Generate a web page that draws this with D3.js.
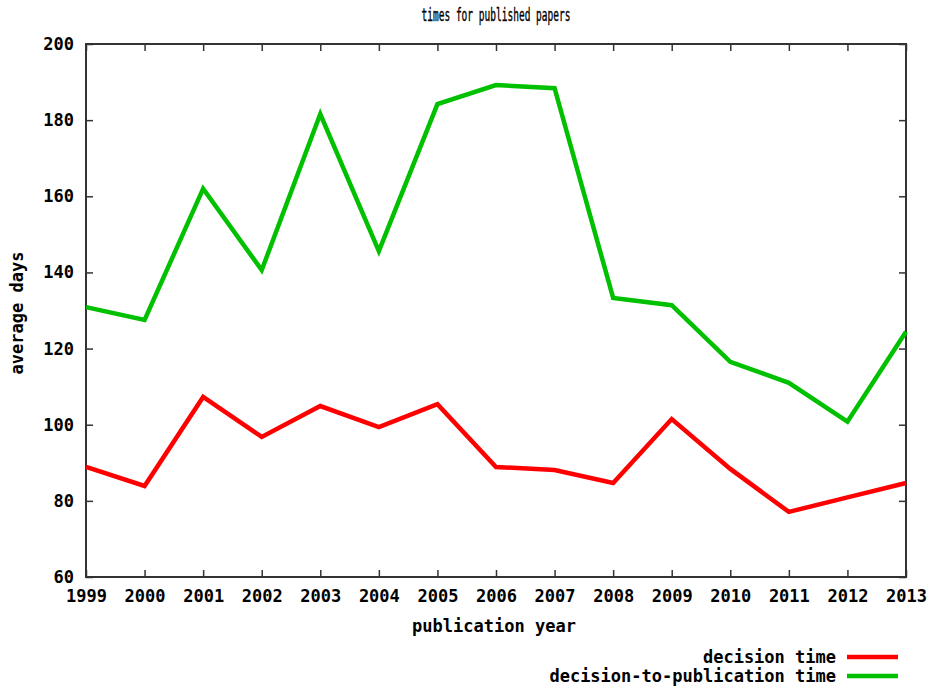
<!DOCTYPE html>
<html>
<head>
<meta charset="utf-8">
<script src="https://cdn.jsdelivr.net/npm/d3@7"></script>
<style>
  html, body { margin: 0; padding: 0; background: #fff; }
  svg { display: block; }
  text { font-family: "DejaVu Sans Mono", monospace; fill: #000; }
</style>
</head>
<body>
<svg id="chart" width="930" height="691"></svg>
<script>
const years = [1999, 2000, 2001, 2002, 2003, 2004, 2005, 2006, 2007, 2008, 2009, 2010, 2011, 2012, 2013];
const decisionTime = [88.9, 83.9, 107.3, 96.8, 104.9, 99.4, 105.4, 88.9, 88.1, 84.7, 101.5, 88.4, 77.1, 80.9, 84.7];
const decisionToPublication = [130.9, 127.5, 162.0, 140.6, 181.6, 145.6, 184.2, 189.2, 188.4, 133.3, 131.4, 116.5, 111.0, 100.8, 124.4];
const yTicks = [60, 80, 100, 120, 140, 160, 180, 200];
const seriesNames = ["decision time", "decision-to-publication time"];
const seriesColors = ["#ff0000", "#00c000"];
const titleText = "times for published papers";
const xLabel = "publication year";
const yLabel = "average days";

const svg = d3.select("#chart");
const mLeft = 86, mRight = 906, mTop = 44, mBottom = 577;

const x = d3.scaleLinear().domain([1999, 2013]).range([mLeft, mRight]);
const y = d3.scaleLinear().domain([60, 200]).range([mBottom, mTop]);

const axisColor = "#333";
const tickLen = 7;

// frame
svg.append("rect")
  .attr("x", mLeft).attr("y", mTop)
  .attr("width", mRight - mLeft).attr("height", mBottom - mTop)
  .attr("fill", "none").attr("stroke", axisColor).attr("stroke-width", 2);

// bottom axis (inward ticks)
const xAxisB = d3.axisBottom(x).tickValues(years).tickFormat(d3.format("d")).tickSizeInner(-tickLen).tickSizeOuter(0).tickPadding(13);
const gxB = svg.append("g").attr("transform", `translate(0,${mBottom})`).call(xAxisB);
gxB.select(".domain").remove();
gxB.selectAll(".tick line").attr("stroke", axisColor).attr("stroke-width", 1.5);
gxB.selectAll(".tick text")
  .attr("font-family", "DejaVu Sans Mono").attr("font-weight", "bold").attr("font-size", 17).attr("fill", "#000");

// top axis ticks (inward, no labels)
const xAxisT = d3.axisTop(x).tickValues(years).tickFormat("").tickSizeInner(-tickLen).tickSizeOuter(0);
const gxT = svg.append("g").attr("transform", `translate(0,${mTop})`).call(xAxisT);
gxT.select(".domain").remove();
gxT.selectAll(".tick line").attr("stroke", axisColor).attr("stroke-width", 1.5);

// left axis
const yAxisL = d3.axisLeft(y).tickValues(yTicks).tickFormat(d3.format("d")).tickSizeInner(-tickLen).tickSizeOuter(0).tickPadding(12);
const gyL = svg.append("g").attr("transform", `translate(${mLeft},0)`).call(yAxisL);
gyL.select(".domain").remove();
gyL.selectAll(".tick line").attr("stroke", axisColor).attr("stroke-width", 1.5);
gyL.selectAll(".tick text")
  .attr("font-family", "DejaVu Sans Mono").attr("font-weight", "bold").attr("font-size", 17).attr("fill", "#000");

// right axis ticks
const yAxisR = d3.axisRight(y).tickValues(yTicks).tickFormat("").tickSizeInner(-tickLen).tickSizeOuter(0);
const gyR = svg.append("g").attr("transform", `translate(${mRight},0)`).call(yAxisR);
gyR.select(".domain").remove();
gyR.selectAll(".tick line").attr("stroke", axisColor).attr("stroke-width", 1.5);

// lines
const allSeries = [decisionTime, decisionToPublication];
const line = d3.line().x((d, i) => x(years[i])).y(d => y(d));
allSeries.forEach((s, k) => {
  svg.append("path")
    .datum(s)
    .attr("d", line)
    .attr("fill", "none")
    .attr("stroke", seriesColors[k])
    .attr("stroke-width", 4.5)
    .attr("stroke-linejoin", "miter");
});

// title
svg.append("text")
  .attr("x", 496).attr("y", 21)
  .attr("text-anchor", "middle")
  .attr("font-size", 18)
  .attr("stroke", "#000").attr("stroke-width", 0.4)
  .attr("textLength", 149).attr("lengthAdjust", "spacingAndGlyphs")
  .text(titleText);

// x label
svg.append("text")
  .attr("x", 494).attr("y", 632)
  .attr("text-anchor", "middle")
  .attr("font-size", 17).attr("font-weight", "bold")
  .text(xLabel);

// y label
svg.append("text")
  .attr("transform", `translate(23,313) rotate(-90)`)
  .attr("text-anchor", "middle")
  .attr("font-size", 17).attr("font-weight", "bold")
  .text(yLabel);

// legend
const legendY = [657, 676];
seriesNames.forEach((name, k) => {
  svg.append("text")
    .attr("x", 836).attr("y", legendY[k] + 6)
    .attr("text-anchor", "end")
    .attr("font-size", 17).attr("font-weight", "bold")
    .text(name);
  svg.append("line")
    .attr("x1", 847).attr("x2", 898)
    .attr("y1", legendY[k]).attr("y2", legendY[k])
    .attr("stroke", seriesColors[k]).attr("stroke-width", 4.5);
});
</script>
</body>
</html>
